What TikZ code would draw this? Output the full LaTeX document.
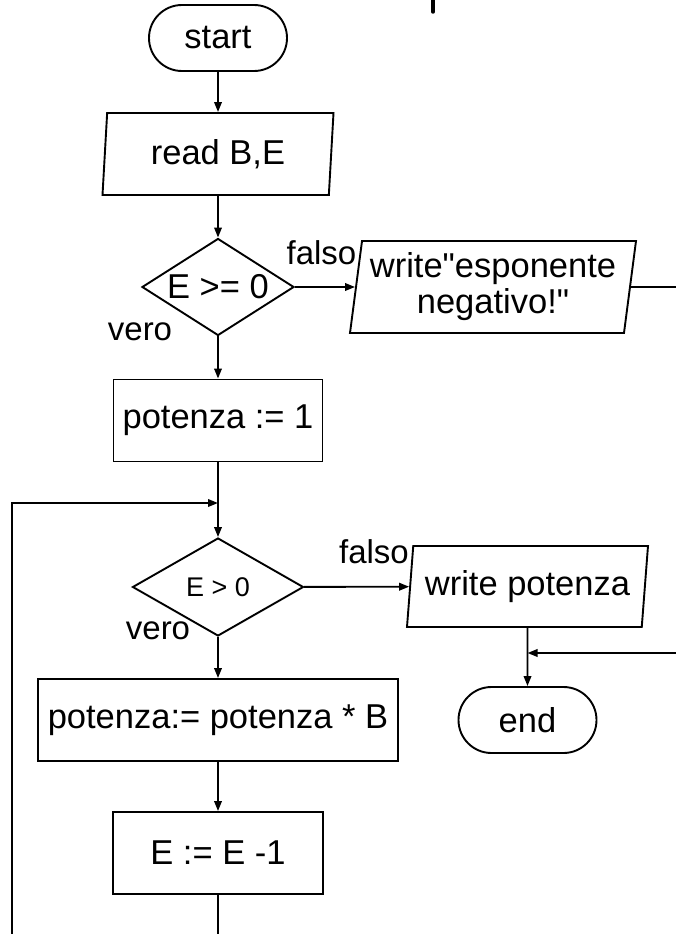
\documentclass[tikz,border=0pt]{standalone}
\usepackage{fontspec}
\setmainfont{Liberation Sans}[Ligatures=TeXOff]
\usetikzlibrary{arrows.meta, positioning, shapes.geometric}

\begin{document}
\begin{tikzpicture}[x=1pt, y=-1pt, line width=1.9pt,
    >={Triangle[length=10pt, width=7.5pt]},
    every node/.style={font=\fontsize{34.5}{36}\selectfont, inner sep=0pt},
    terminal/.style={draw, rounded corners=33pt, minimum width=138pt,
      minimum height=66pt},
    process/.style={draw, minimum height=82pt},
    decision/.style={draw, diamond, aspect=1.7},
    io/.style={draw, trapezium, trapezium stretches body, align=center},
    lbl/.style={anchor=base, font=\fontsize{33}{36}\selectfont}]
  \useasboundingbox (0,0) rectangle (676,934);

  % Main column
  \node[terminal] (start) at (218,38) {start};
  \node[io, trapezium left angle=81, trapezium right angle=99,
        minimum width=231pt, minimum height=82pt]
    (read) at (218,154) {read B,E};
  \node[decision, minimum width=152pt, minimum height=97pt]
    (chk1) at (218,287) {E >= 0};
  \node[process, minimum width=209pt] (init) at (218,420.5) {potenza := 1};
  \node[decision, minimum width=171pt, minimum height=98pt,
        font=\fontsize{27}{30}\selectfont]
    (chk2) at (218,587) {E > 0};
  \node[process, minimum width=360pt] (mul) at (218,720) {potenza:= potenza * B};
  \node[process, minimum width=210pt] (dec) at (218,853) {E := E -1};

  % Right side
  \node[io, trapezium left angle=80, trapezium right angle=100,
        minimum width=286pt, minimum height=92pt]
    (msg) at (493,287) {write"esponente\\negativo!"};
  \node[io, trapezium left angle=79, trapezium right angle=101,
        minimum width=241pt, minimum height=81pt]
    (out) at (527.5,586.5) {write potenza};
  \node[terminal] (stop) at (527.5,720) {end};

  % Branch labels
  \node[lbl] (f1) at (321.5,264) {falso};
  \node[lbl] (v1) at (140,340) {vero};
  \node[lbl] (f2) at (374,563) {falso};
  \node[lbl] (v2) at (158,639) {vero};

  % Free ends at the picture border
  \coordinate (outR) at (676,287);
  \coordinate (inR) at (676,653);
  \coordinate (join) at (218,503);
  \coordinate (loopB) at (218,934);
  \coordinate (loopL) at (12,934);

  % Connectors
  \draw[->] (start) -- (read);
  \draw[->] (read) -- (chk1);
  \draw[->] (chk1) -- (msg);
  \draw (msg.east) -- (outR);
  \draw[->] (chk1) -- (init);
  \draw[->] (init) -- (chk2);
  \draw[->] (chk2) -- (out);
  \draw[->] (chk2) -- (mul);
  \draw[->] (mul) -- (dec);
  \draw (dec) -- (loopB);
  \draw[->] (loopL) |- (join);
  \draw[->] (out) -- (stop);
  \draw[->] (inR) -- (inR -| out.south);

  % stray mark at the top edge
  \draw[line width=3.5pt, line cap=round] (433,0) -- (433,12);
\end{tikzpicture}
\end{document}
